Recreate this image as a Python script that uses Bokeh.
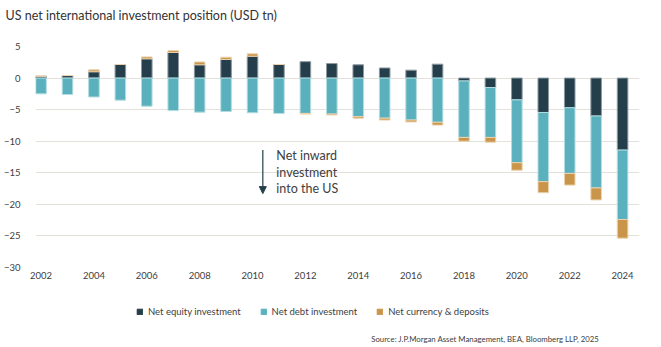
from bokeh.plotting import figure
from bokeh.models import (Legend, LegendItem, Label, Arrow, NormalHead,
                          ColumnDataSource, FixedTicker)
from bokeh.layouts import column
from bokeh.embed import file_html
from bokeh.resources import INLINE

# ---- data (USD tn) ----
years = list(range(2002, 2025))
equity = [0.3, 0.4, 1.0, 2.15, 3.05, 4.05, 2.1, 2.95, 3.45, 2.15, 2.6, 2.3,
          2.1, 1.6, 1.25, 2.2, -0.45, -1.5, -3.45, -5.45, -4.7, -6.0, -11.4]
debt = [-2.5, -2.6, -3.0, -3.5, -4.45, -5.15, -5.4, -5.3, -5.5, -5.6, -5.6, -5.7,
        -6.1, -6.35, -6.65, -7.0, -8.95, -7.9, -9.95, -10.95, -10.4, -11.4, -11.0]
currency = [0.0, 0.0, 0.3, 0.0, 0.3, 0.3, 0.45, 0.35, 0.4, 0.0, -0.1, -0.15,
            -0.25, -0.3, -0.3, -0.45, -0.6, -0.75, -1.2, -1.75, -1.85, -1.9, -2.95]
series_names = ["Net equity investment", "Net debt investment", "Net currency & deposits"]
y_ticks = [5, 0, -5, -10, -15, -20, -25, -30]
x_ticks = list(range(2002, 2025, 2))

colors = ["#243f4b", "#5ab1bd", "#c9954a"]
outlines = ["#8d999e", "#b4dde3", "#ecd2ad"]
FONT = "Lato"

# ---- stacking (positives up, negatives down) ----
pos = [0.0] * len(years)
neg = [0.0] * len(years)
stacks = []
for vals in (equity, debt, currency):
    bottoms, tops = [], []
    for i, v in enumerate(vals):
        if v >= 0:
            bottoms.append(pos[i]); tops.append(pos[i] + v); pos[i] += v
        else:
            tops.append(neg[i]); bottoms.append(neg[i] + v); neg[i] += v
    stacks.append((bottoms, tops))


def strip(h):
    f = figure(width=661, height=h, output_backend="svg", toolbar_location=None,
               x_range=(0, 661), y_range=(0, h), min_border=0,
               x_axis_type=None, y_axis_type=None)
    f.outline_line_color = None
    f.xgrid.visible = False
    f.ygrid.visible = False
    return f


# ---- title strip (its frame is aligned with the chart frame by the column) ----
tf = strip(32)
tf.min_border_top = 22
tf.title.text = "US net international investment position (USD tn)"
tf.title.text_font = FONT
tf.title.text_font_size = "12.5px"
tf.title.text_font_style = "normal"
tf.title.text_color = "#333333"
tf.title.offset = -30
tf.title.standoff = 0

# ---- main chart ----
p = figure(width=661, height=258, output_backend="svg", toolbar_location=None,
           x_range=(2001.79, 2024.64), y_range=(-30, 5),
           min_border_left=31, min_border_right=22, min_border_top=14,
           min_border_bottom=23)
p.outline_line_color = None
p.background_fill_color = "white"

for k in range(3):
    src = ColumnDataSource(dict(x=years, bottom=stacks[k][0], top=stacks[k][1]))
    p.vbar(x="x", bottom="bottom", top="top", width=0.4, source=src,
           fill_color=colors[k], line_color=outlines[k], line_width=1)

p.xgrid.grid_line_color = None
p.ygrid.grid_line_color = "#e4e1da"
p.ygrid.grid_line_width = 1
p.yaxis.ticker = FixedTicker(ticks=y_ticks)
p.xaxis.ticker = FixedTicker(ticks=x_ticks)
for ax in (p.xaxis, p.yaxis):
    ax.axis_line_color = None
    ax.major_tick_line_color = None
    ax.minor_tick_line_color = None
    ax.major_label_text_font = FONT
    ax.major_label_text_font_size = "9.5px"
    ax.major_label_text_color = "#404040"
p.yaxis.major_label_standoff = 9
p.xaxis.major_label_standoff = -2

# annotation
p.add_layout(Arrow(x_start=2010.39, y_start=-11.4, x_end=2010.39, y_end=-18.3,
                   line_color="#243f4b", line_width=1.2,
                   end=NormalHead(size=7, fill_color="#243f4b", line_color="#243f4b")))
for txt, yy in (("Net inward", -12.25), ("investment", -14.9), ("into the US", -17.5)):
    p.add_layout(Label(x=2010.9, y=yy, text=txt, text_font=FONT,
                       text_font_size="12.5px", text_color="#404040",
                       text_baseline="middle"))

# ---- legend + source strip ----
lf = strip(57)
leg_rs = []
for k in range(3):
    leg_rs.append(lf.vbar(x=[-1000], bottom=[-1000], top=[-999], width=1,
                          fill_color=colors[k], line_color=colors[k]))
legend = Legend(items=[LegendItem(label=n, renderers=[r]) for n, r in zip(series_names, leg_rs)],
                orientation="horizontal", location=(101, 30),
                glyph_width=7, glyph_height=7, spacing=19, label_standoff=5,
                label_text_font=FONT, label_text_font_size="9.5px",
                label_text_color="#404040", border_line_color=None,
                background_fill_alpha=0, padding=0, margin=0)
lf.add_layout(legend, "center")
lf.add_layout(Label(x=617, y=9, text="Source: J.P.Morgan Asset Management, BEA, Bloomberg LLP, 2025",
                    text_font=FONT, text_font_size="7.8px", text_color="#404040",
                    text_align="right", text_baseline="middle"))

open("out.html", "w").write(file_html(column(tf, p, lf, spacing=0), INLINE))
